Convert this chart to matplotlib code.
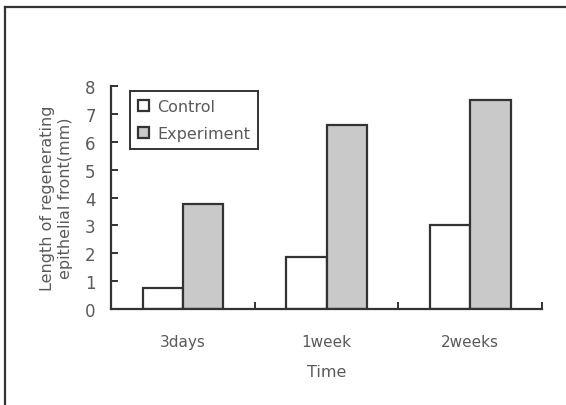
import matplotlib.pyplot as plt
import numpy as np

categories = ['3days', '1week', '2weeks']
control = [0.75, 1.87, 3.0]
experiment = [3.75, 6.6, 7.5]

plt.rcParams['font.family'] = ['DejaVu Sans']
text_color = '#5a5a5a'

fig = plt.figure(figsize=(5.66, 4.06), dpi=100)
ax = fig.add_axes([0.196, 0.2365, 0.762, 0.549])

x = np.arange(len(categories))
w = 0.28
ax.bar(x - w / 2, control, w, color='white', edgecolor='#333333',
       linewidth=1.6, label='Control')
ax.bar(x + w / 2, experiment, w, color='#c9c9c9', edgecolor='#333333',
       linewidth=1.6, label='Experiment')

ax.set_xlim(-0.5, 2.5)
ax.set_ylim(0, 8)
ax.set_yticks(range(9))
ax.set_xticks(x)
ax.set_xticklabels(categories)
ax.set_xticks([0.5, 1.5, 2.5], minor=True)

ax.spines['right'].set_visible(False)
ax.spines['top'].set_visible(False)
for s in ['left', 'bottom']:
    ax.spines[s].set_linewidth(1.6)
    ax.spines[s].set_color('#333333')

ax.tick_params(axis='y', direction='in', length=5, width=1.4,
               colors='#333333', labelcolor=text_color, labelsize=12, pad=11)
ax.tick_params(axis='x', which='major', length=0, labelcolor=text_color,
               labelsize=11, pad=18)
ax.tick_params(axis='x', which='minor', direction='in', length=5,
               width=1.4, colors='#333333')

ax.set_xlabel('Time', color=text_color, fontsize=11.5, labelpad=11)
ax.set_ylabel('Length of regenerating\nepithelial front(mm)',
              color=text_color, fontsize=11.5, labelpad=9, linespacing=1.25)

leg = ax.legend(loc='upper left', bbox_to_anchor=(0.044, 0.978),
                fancybox=False, framealpha=1, edgecolor='#333333',
                fontsize=11.5, handlelength=0.7, handleheight=0.7,
                handletextpad=0.5, labelspacing=0.75, borderpad=0.5,
                borderaxespad=0)
leg.get_frame().set_linewidth(1.4)
for t in leg.get_texts():
    t.set_color(text_color)

# outer frame of the picture (left and top edges)
fig.add_artist(plt.Line2D([0.009, 0.009], [0, 0.98], color='#333333',
                          linewidth=1.6, transform=fig.transFigure))
fig.add_artist(plt.Line2D([0.009, 1.0], [0.98, 0.98], color='#333333',
                          linewidth=1.6, transform=fig.transFigure))

plt.savefig('out.png', dpi=100)
